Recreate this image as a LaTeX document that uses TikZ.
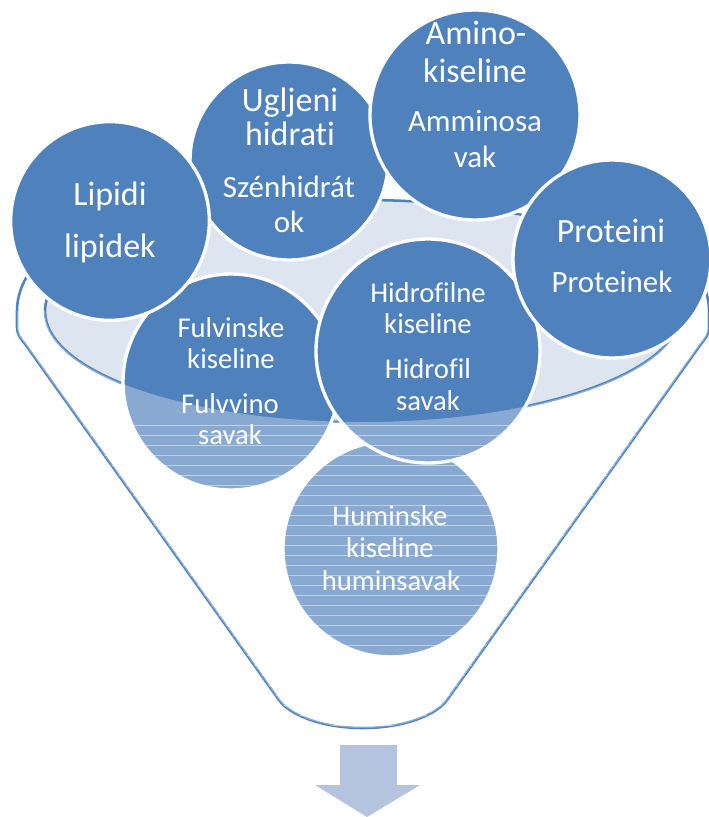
\documentclass[tikz,border=0pt]{standalone}
\usepackage{fontspec}
\setmainfont{Carlito}[Ligatures=NoCommon]
\definecolor{ballblue}{RGB}{79,129,189}
\definecolor{palefill}{RGB}{221,229,241}
\definecolor{arrowfill}{RGB}{180,196,222}
\def\funnelpts{(17,311) -- (17,327) .. controls (17,334) and (20,338) .. (25,344) -- (279,700) .. controls (288,713) and (318,728) .. (363,728) .. controls (408,728) and (438,713) .. (447,700) -- (701,344) .. controls (706,338) and (709,334) .. (709,327) -- (709,311) arc[start angle=0, end angle=-180, x radius=346, y radius=145] -- cycle}
\begin{document}
\begin{tikzpicture}[x=0.75pt,y=-0.75pt,
  ball/.style={circle, fill=ballblue, draw=white, line width=2.5pt, inner sep=0pt},
  lab/.style={text=white, inner sep=0pt, anchor=base},
  big/.style={font=\fontsize{25.5}{30}\selectfont},
  mid/.style={font=\fontsize{23.2}{28}\selectfont},
  sml/.style={font=\fontsize{21.5}{26}\selectfont},
  funnelline/.style={draw=ballblue, line width=1.9pt}]
\useasboundingbox (0,0) rectangle (708,817);
% funnel body and opening
\path[funnelline, fill=white] \funnelpts;
\draw[funnelline, fill=palefill] (363,311) ellipse [x radius=318, y radius=111];
% circles inside the funnel
\node[ball, minimum size=162pt] (humin) at (391,549) {};
\node[lab,sml] (huminA) at (390,525) {Huminske};
\node[lab,sml] (huminB) at (390,557) {kiseline};
\node[lab,sml] (huminC) at (391,590) {huminsavak};
\node[ball, minimum size=162pt] (fulvin) at (231,382) {};
\node[lab,sml] (fulvinA) at (231,337) {Fulvinske};
\node[lab,sml] (fulvinB) at (231,368) {kiseline};
\node[lab,sml] (fulvinC) at (230,413) {Fulvvino};
\node[lab,sml] (fulvinD) at (230,444) {savak};
\node[ball, minimum size=168pt] (hidro) at (428,351) {};
\node[lab,sml] (hidroA) at (428,302) {Hidrofilne};
\node[lab,sml] (hidroB) at (428,333) {kiseline};
\node[lab,sml] (hidroC) at (428,378) {Hidrofil};
\node[lab,sml] (hidroD) at (428,410) {savak};
% glass pattern over the funnel body
\begin{scope}
  \clip \funnelpts;
  \clip (0,311) -- (45,311) arc[start angle=180, end angle=0, x radius=318, y radius=111] -- (708,311) -- (708,817) -- (0,817) -- cycle;
  \fill[white, opacity=0.33] (0,300) rectangle (708,817);
  \foreach \yy in {425,435,...,815} \draw[white, opacity=0.45, line width=0.6pt] (0,\yy) -- (708,\yy);
\end{scope}
% circles above the funnel
\node[ball, minimum size=148.5pt] (uglj) at (289,161) {};
\node[lab,big] (ugljA) at (290,112) {Ugljeni};
\node[lab,big] (ugljB) at (290,145) {hidrati};
\node[lab,mid] (ugljC) at (289,197) {Szénhidrát};
\node[lab,mid] (ugljD) at (289,232) {ok};
\node[ball, minimum size=157.5pt] (amino) at (475,115) {};
\node[lab,big] (aminoA) at (476,45) {Amino-};
\node[lab,big] (aminoB) at (475,83) {kiseline};
\node[lab,mid] (aminoC) at (475,132) {Amminosa};
\node[lab,mid] (aminoD) at (475,167) {vak};
\node[ball, minimum size=148.5pt] (prot) at (612,259) {};
\node[lab,big] (protA) at (611,242) {Proteini};
\node[lab,mid] (protB) at (612,292) {Proteinek};
\node[ball, minimum size=149pt] (lip) at (110,221) {};
\node[lab,big] (lipA) at (110,205) {Lipidi};
\node[lab,big] (lipB) at (110,257) {lipidek};
% output arrow
\fill[arrowfill] (340,745) -- (397,745) -- (397,785) -- (420,785) -- (367,817) -- (315,785) -- (340,785) -- cycle;
\end{tikzpicture}
\end{document}
